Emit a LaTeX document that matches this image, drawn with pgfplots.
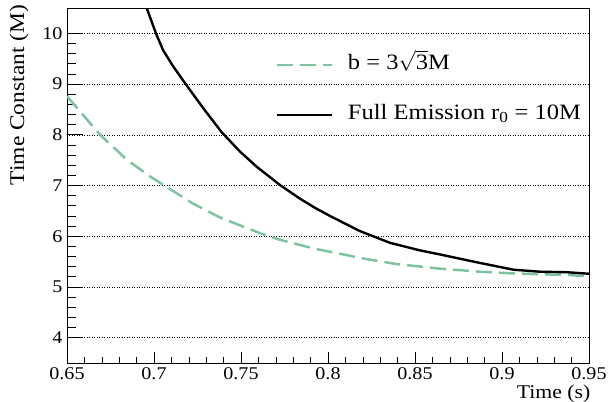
\documentclass[border=0pt]{standalone}
\usepackage{fontspec}
\setmainfont[FakeStretch=1.12]{Liberation Serif}
\usepackage{amsmath}
\usepackage{pgfplots}
\pgfplotsset{compat=1.18}

\definecolor{curvegreen}{RGB}{125,195,160}
\newcommand{\ticksize}{\fontsize{18}{20}\selectfont}

\pgfplotsset{
  frame/.style={
    at={(67bp,39bp)}, anchor=south west,
    scale only axis,
    width=522bp, height=355bp,
    xmin=0.65, xmax=0.95,
    ymin=3.5, ymax=10.5,
    tick align=inside,
    tick style={black, line width=0.6pt},
    axis line style={black, line width=0.8pt},
    /pgf/number format/assume math mode=true,
  },
}

\begin{document}
\begin{tikzpicture}
\useasboundingbox (0,0) rectangle (609bp,402bp);
% vertical scale: grid, y ticks and the y title
\begin{axis}[
  frame,
  xtick=\empty,
  ytick={4,5,...,10},
  minor y tick num=4,
  ytick pos=left,
  major tick length=16bp,
  minor tick length=9bp,
  ymajorgrids,
  grid style={black, line width=0.5pt, dotted},
  yticklabel={\ticksize\pgfmathprintnumber[fixed,precision=0]{\tick}},
  yticklabel shift=1bp,
  ylabel={Time Constant (M)},
  ylabel style={font=\fontsize{21}{24}\selectfont, at={(axis description cs:-0.073,1.009)}, anchor=south east, inner sep=0pt},
]
\end{axis}
% horizontal scale, the two curves and the legend
\begin{axis}[
  frame,
  ytick=\empty,
  xtick={0.65,0.7,...,0.951},
  minor x tick num=4,
  xtick pos=bottom,
  major tick length=11bp,
  minor tick length=6bp,
  xticklabel={\ticksize\pgfmathprintnumber[fixed,precision=2]{\tick}},
  xticklabel shift=1bp,
  xlabel={Time (s)},
  xlabel style={font=\fontsize{19.5}{22}\selectfont, at={(axis description cs:1.003,-0.099)}, anchor=base east, inner sep=0pt},
  legend style={draw=none, fill=none, at={(axis description cs:0.399,0.87)}, anchor=north west,
    font=\fontsize{22}{24}\selectfont, row sep=29bp, inner sep=0pt,
    nodes={inner sep=0pt, text height=15bp, text depth=6bp},
    /tikz/every odd column/.append style={column sep=15bp}},
  legend cell align=left,
  legend image code/.code={\draw[#1] (0bp,0bp) -- (55bp,0bp);},
]
\addplot[color=curvegreen, line width=2.5bp, dash pattern=on 16bp off 7bp] coordinates {
  (0.650,8.76) (0.669,8.00) (0.6843,7.51) (0.6977,7.18) (0.7073,6.97)
  (0.7226,6.64) (0.7379,6.37) (0.7609,6.06) (0.7724,5.93) (0.7916,5.76)
  (0.8203,5.56) (0.8395,5.45) (0.8644,5.36) (0.8874,5.30) (0.9046,5.27)
  (0.920,5.25) (0.9353,5.24) (0.950,5.21)
};
\addlegendentry{b = 3$\sqrt{\text{3}}$M}
\addplot[color=black, line width=2.4bp] coordinates {
  (0.6950,10.60) (0.6958,10.50) (0.7011,10.00) (0.7052,9.67) (0.7110,9.35)
  (0.7182,9.00) (0.7284,8.52) (0.7389,8.05) (0.7494,7.67) (0.7590,7.37)
  (0.7724,7.01) (0.7839,6.74) (0.7925,6.56)
  (0.8011,6.40) (0.8184,6.10) (0.8356,5.87) (0.8529,5.72) (0.8644,5.64)
  (0.8835,5.50) (0.9065,5.34) (0.9218,5.30) (0.9372,5.29) (0.950,5.26)
};
\addlegendentry{Full Emission r$_{\text{0}}$ = 10M}
\end{axis}
\end{tikzpicture}
\end{document}
